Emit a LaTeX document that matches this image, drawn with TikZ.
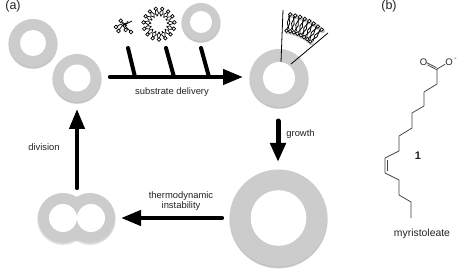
\documentclass[tikz,border=0pt]{standalone}
\usepackage{fontspec}
\setmainfont{Liberation Sans}
\usetikzlibrary{arrows.meta,calc}
\definecolor{ringgray}{HTML}{CCCCCC}
\definecolor{labelgray}{HTML}{222222}
\tikzset{
  disc/.style={circle,draw=none,inner sep=0pt,fill=ringgray},
  hole/.style={circle,draw=none,inner sep=0pt,fill=white},
  haze/.style={circle,draw=none,inner sep=0pt,fill=black,opacity=.13},
  flow/.style={line width=4.2pt,line cap=round,-{Triangle[length=20pt,width=15pt]}},
  bigflow/.style={line width=5pt,line cap=round,-{Triangle[length=19pt,width=15pt]}},
  feed/.style={line width=4pt,line cap=round},
  lbl/.style={font=\fontsize{9.4}{11}\selectfont,text=labelgray,inner sep=0pt},
  namelbl/.style={font=\fontsize{10.4}{12}\selectfont,text=labelgray,inner sep=0pt},
  panel/.style={font=\fontsize{12.5}{14}\selectfont,text=labelgray,inner sep=0pt},
  bond/.style={line width=.75pt,draw=black!75},
  lead/.style={line width=.8pt,draw=black},
  lipidhead/.style={circle,draw=black,line width=.7pt,fill=white,inner sep=0pt,minimum size=3.6pt},
  headshade/.style={circle,draw=none,fill=black,opacity=.22,inner sep=0pt,minimum size=5pt},
  chem/.style={font=\fontsize{9.5}{11}\selectfont,text=labelgray,inner sep=0pt}
}
% \vesicle{name}{position}{outer radius}{inner radius}
\newcommand{\vesicle}[4]{%
  \node[haze,minimum size=#3*2pt+1.6pt] at ($(#2)+(0,1.2)$) {};
  \node[haze,minimum size=#3*2pt+.4pt] at ($(#2)+(0,1.2)$) {};
  \node[disc,minimum size=#3*2pt] (#1) at (#2) {};
  \node[hole,minimum size=#4*2pt] (#1in) at (#2) {};
}
\begin{document}
\begin{tikzpicture}[x=1pt,y=-1pt]
\useasboundingbox (0,0) rectangle (457,272);

% Vesicles around the cycle
\vesicle{a}{33,43}{24}{13}
\vesicle{b}{77,78}{24}{13.5}
\vesicle{t}{201,22}{19}{11}
\vesicle{g}{279,78}{29}{16}
\vesicle{h}{278.5,218}{48.5}{27.8}

% Vesicle in the middle of division
\foreach \cx in {63,90}{
  \node[haze,minimum size=51.4pt] at (\cx,219.2) {};
}
\node[disc,minimum size=50pt] (dl) at (63,218) {};
\node[disc,minimum size=50pt] (dr) at (90,218) {};
\node[hole,minimum size=28pt] (dlin) at (63,218) {};
\node[hole,minimum size=28pt] (drin) at (91,218) {};

% Substrate delivery arrow with its three feeders
\coordinate (ds) at (110,77);
\coordinate (de) at (243,77);
\coordinate (f1s) at (128,48); \coordinate (f1e) at (135,77);
\coordinate (f2s) at (166,48); \coordinate (f2e) at (174,77);
\coordinate (f3s) at (201,48); \coordinate (f3e) at (209,77);
\draw[feed] (f1s) -- (f1e);
\draw[feed] (f2s) -- (f2e);
\draw[feed] (f3s) -- (f3e);
\draw[flow] (ds) -- (de);

% Remaining cycle arrows
\coordinate (gs) at (278,121); \coordinate (ge) at (278,162);
\draw[bigflow] (gs) -- (ge);
\coordinate (ts) at (222,218); \coordinate (te) at (121,218);
\draw[flow] (ts) -- (te);
\coordinate (vs) at (77,188); \coordinate (ve) at (77,109);
\draw[flow] (vs) -- (ve);

% Labels of the cycle
\node[panel] (pa) at (13,6) {(a)};
\node[panel] (pb) at (389,6) {(b)};
\node[lbl] (l1) at (172,92.5) {substrate delivery};
\node[lbl] (l2) at (300.5,134) {growth};
\node[lbl] (l3) at (181,196) {thermodynamic};
\node[lbl] (l4) at (181,206.5) {instability};
\node[lbl] (l5) at (44,147) {division};

% Magnifying leads of the membrane patch
\coordinate (m1a) at (283,10); \coordinate (m1b) at (281,62);
\coordinate (m2a) at (328,33); \coordinate (m2b) at (291,64);
\draw[lead] (m1a) -- (m1b);
\draw[lead] (m2a) -- (m2b);

% Membrane patch: two leaflets on an arc about the vesicle centre
\foreach \k in {0,...,7}{
  \pgfmathsetmacro{\ang}{90-(10+\k*4.5)}
  \node[headshade] at ($(279.8,79.2)+({cos(\ang)*64.5},{-sin(\ang)*64.5})$) {};
  \node[headshade] at ($(279.8,79.2)+({cos(\ang+1)*48},{-sin(\ang+1)*48})$) {};
}
\foreach \k in {0,...,7}{
  \pgfmathsetmacro{\ang}{90-(10+\k*4.5)}
  \draw[line width=.8pt] ($(279,78)+({cos(\ang)*63},{-sin(\ang)*63})$)
     -- ($(279,78)+({cos(\ang+1.6)*56},{-sin(\ang+1.6)*56})$)
     -- ($(279,78)+({cos(\ang-1.4)*50},{-sin(\ang-1.4)*50})$);
  \draw[line width=.8pt] ($(279,78)+({cos(\ang+1.2)*63},{-sin(\ang+1.2)*63})$)
     -- ($(279,78)+({cos(\ang-1.2)*56},{-sin(\ang-1.2)*56})$)
     -- ($(279,78)+({cos(\ang+.6)*50},{-sin(\ang+.6)*50})$);
  \node[lipidhead] at ($(279,78)+({cos(\ang)*64.5},{-sin(\ang)*64.5})$) {};
  \node[lipidhead] at ($(279,78)+({cos(\ang+1)*48},{-sin(\ang+1)*48})$) {};
}

% Micelle
\foreach \k in {0,...,14}{
  \pgfmathsetmacro{\ang}{\k*24+6}
  \draw[line width=.7pt] ($(159,24)+({cos(\ang)*14.5},{-sin(\ang)*14.5})$)
     -- ($(159,24)+({cos(\ang+9)*11},{-sin(\ang+9)*11})$)
     -- ($(159,24)+({cos(\ang-4)*8},{-sin(\ang-4)*8})$);
  \draw[line width=.7pt] ($(159,24)+({cos(\ang-3)*14.5},{-sin(\ang-3)*14.5})$)
     -- ($(159,24)+({cos(\ang-10)*11},{-sin(\ang-10)*11})$)
     -- ($(159,24)+({cos(\ang+4)*8},{-sin(\ang+4)*8})$);
  \node[lipidhead] at ($(159,24)+({cos(\ang)*15.5},{-sin(\ang)*15.5})$) {};
}

% Free monomers
\draw[line width=.7pt] (120.7,20.7) -- (124,25) -- (132,21);
\draw[line width=.7pt] (120.7,20.7) -- (127,26);
\draw[line width=.7pt] (116,27) -- (121,24) -- (124,27);
\draw[line width=.7pt] (118.5,31) -- (122,26) -- (126,23);
\draw[line width=.7pt] (125.7,30) -- (123,25);
\draw[line width=.7pt] (131,32) -- (125,26) -- (128,21);
\foreach \hx/\hy/\hn in {120.7/20.7/m1, 116/27/m2, 118.5/31/m3, 125.7/30/m4, 131/32/m5}{
  \node[lipidhead] (\hn) at (\hx,\hy) {};
}

% Structure of myristoleate
\coordinate (c1) at (437,69);   \coordinate (c2) at (437,84);
\coordinate (c3) at (424,92);   \coordinate (c4) at (424,106);
\coordinate (c5) at (412,113);  \coordinate (c6) at (412,128);
\coordinate (c7) at (399,136);  \coordinate (c8) at (399,151);
\coordinate (c9) at (385,158);  \coordinate (c10) at (385,173);
\coordinate (c11) at (399,180); \coordinate (c12) at (399,195);
\coordinate (c13) at (411,202); \coordinate (c14) at (411,218);
\node[chem] (o1) at (423.5,62) {O};
\node[chem] (o2) at (449,62) {O};
\node[chem,font=\fontsize{7}{8}\selectfont] (minus) at (455.5,59) {-};
\draw[bond] (c1) -- (o2);
\draw[bond] ($(c1)+(-.5,-1.3)$) -- ($(o1)+(3,.6)$);
\draw[bond] ($(c1)+(.3,1)$) -- ($(o1)+(4,2.9)$);
\draw[bond,line join=round] (c1) -- (c2) -- (c3) -- (c4) -- (c5) -- (c6) -- (c7) -- (c8) -- (c9)
  -- (c10) -- (c11) -- (c12) -- (c13) -- (c14);
\draw[bond] ($(c9)+(2.2,2)$) -- ($(c10)+(2.2,-2)$);
\node[chem,font=\bfseries\fontsize{11}{13}\selectfont] (n1) at (418,156) {1};
\node[namelbl] (name) at (422,234) {myristoleate};
\end{tikzpicture}
\end{document}
